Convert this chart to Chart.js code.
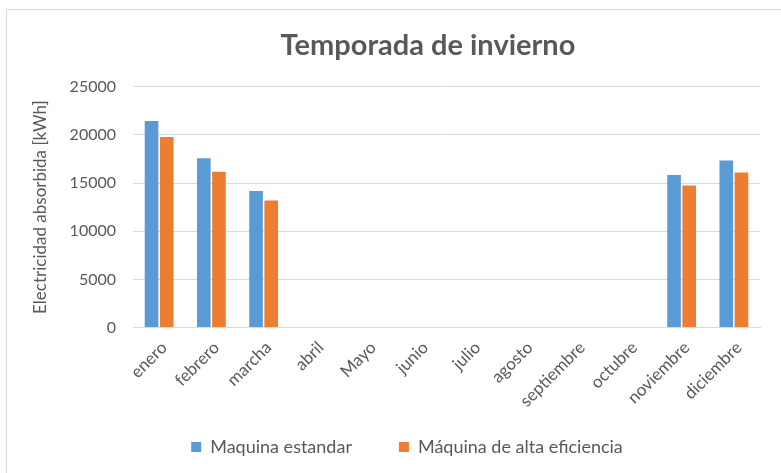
<!DOCTYPE html>
<html>
<head>
<meta charset="utf-8">
<script src="https://cdn.jsdelivr.net/npm/chart.js@4/dist/chart.umd.min.js"></script>
<style>
  html, body { margin: 0; padding: 0; background: #fff; }
  #frame { position: absolute; left: 6px; top: 9px; width: 800px; height: 480px; border: 1px solid #d9d9d9; }
  #chart { position: absolute; left: 0; top: 0; }
</style>
</head>
<body>
<div id="frame"></div>
<canvas id="chart" width="781" height="473"></canvas>
<script>
// months (as written in the source chart)
const months = ['enero', 'febrero', 'marcha', 'abril', 'Mayo', 'junio', 'julio', 'agosto', 'septiembre', 'octubre', 'noviembre', 'diciembre'];

// kWh per month, winter months only
const standardValues = [21450, 17570, 14170, null, null, null, null, null, null, null, 15830, 17350];
const efficientValues = [19780, 16180, 13200, null, null, null, null, null, null, null, 14750, 16100];

const yTicks = [0, 5000, 10000, 15000, 20000, 25000];

const textColor = '#595959';
const gridColor = '#d9d9d9';
const legendFont = 18;
const legendGap = 47;
Chart.defaults.font.family = "Lato, 'Open Sans', sans-serif";
Chart.defaults.color = textColor;

// the original chart is wider than the screenshot, so title and legend are not centred on the canvas
const boxPlacement = {
    id: 'boxPlacement',
    afterInit(chart) {
        // keep the legend from eating plot height (its padding is only wanted sideways)
        const legend = chart.legend;
        const fit = legend.fit.bind(legend);
        legend.fit = () => { fit(); legend.height = 60; };
    },
    afterLayout(chart) {
        const centreX = (box, cx) => {
            const dx = cx - (box.left + box.right) / 2;
            box.left += dx;
            box.right += dx;
        };
        centreX(chart.titleBlock, 428);
        const legend = chart.legend;
        centreX(legend, 407);
        // raise only the top so the legend clip box still reaches the bottom
        legend.top = 447 - legendGap - legendFont / 2;
    }
};

const ctx = document.getElementById('chart').getContext('2d');
new Chart(ctx, {
    type: 'bar',
    data: {
        labels: months,
        datasets: [
            {
                label: 'Maquina estandar',
                data: standardValues,
                backgroundColor: '#5b9bd5', // blue
                barPercentage: 0.9,
                categoryPercentage: 0.58
            },
            {
                label: 'Máquina de alta eficiencia',
                data: efficientValues,
                backgroundColor: '#ed7d31', // orange
                barPercentage: 0.9,
                categoryPercentage: 0.58
            }
        ]
    },
    plugins: [boxPlacement],
    options: {
        responsive: false,
        animation: false,
        layout: { padding: { left: 30, right: 21, top: 10, bottom: 0 } },
        scales: {
            x: {
                grid: { display: false },
                border: { color: gridColor },
                ticks: {
                    font: { size: 17 },
                    color: textColor,
                    autoSkip: false,
                    maxRotation: 45,
                    minRotation: 45,
                    labelOffset: 5,
                    padding: 2
                }
            },
            y: {
                min: 0,
                max: 25000,
                afterBuildTicks: axis => { axis.ticks = yTicks.map(v => ({ value: v })); },
                afterFit: axis => { axis.width = 103; },
                grid: { color: gridColor, drawTicks: false },
                border: { display: false },
                ticks: {
                    font: { size: 16 },
                    color: textColor,
                    padding: 17,
                    callback: v => String(v)
                },
                title: {
                    display: true,
                    text: 'Electricidad absorbida [kWh]',
                    font: { size: 17 },
                    color: textColor,
                    padding: { top: 0, bottom: 0 }
                }
            }
        },
        plugins: {
            title: {
                display: true,
                text: 'Temporada de invierno',
                font: { size: 29, weight: 'bold' },
                color: textColor,
                padding: { top: 18, bottom: 24 }
            },
            legend: {
                position: 'bottom',
                labels: {
                    boxWidth: 10,
                    boxHeight: 10,
                    padding: legendGap,
                    font: { size: legendFont },
                    color: textColor
                }
            },
            tooltip: { enabled: false }
        }
    }
});
</script>
</body>
</html>
